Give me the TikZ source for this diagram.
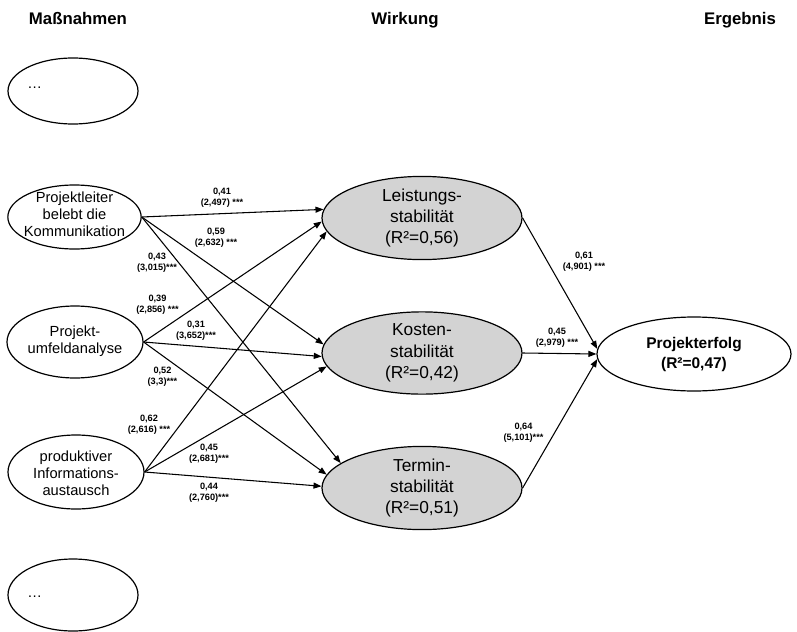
\documentclass[tikz,border=0pt]{standalone}
\usepackage{fontspec}
\setmainfont{Liberation Sans}
\usetikzlibrary{shapes.geometric,arrows.meta}
\definecolor{fillgray}{RGB}{211,211,211}
\begin{document}
\begin{tikzpicture}[x=0.75pt,y=-0.75pt,
  oval/.style={ellipse,draw,line width=0.9pt,inner sep=0pt,align=center},
  src/.style={oval},
  srctext/.style={align=center,inner sep=0pt,font=\fontsize{11}{13}\selectfont},
  mid/.style={oval,fill=fillgray,minimum width=150pt,minimum height=60pt,font=\fontsize{13}{16}\selectfont},
  res/.style={oval,minimum width=145.5pt,minimum height=55.5pt,font=\bfseries\fontsize{11.6}{15}\selectfont},
  head/.style={font=\bfseries\fontsize{12.6}{15}\selectfont,anchor=base,inner sep=0pt},
  coef/.style={font=\bfseries\fontsize{6.9}{8}\selectfont,align=center,inner sep=0pt},
  dots/.style={font=\fontsize{11}{13}\selectfont,anchor=base west,inner sep=0pt},
  arr/.style={-{Triangle[length=6pt,width=4.5pt]},line width=0.8pt}
]
\useasboundingbox (0,0) rectangle (797,632);

% column headings
\node[head] (h1) at (78,24) {Maßnahmen};
\node[head] (h2) at (405,24) {Wirkung};
\node[head] (h3) at (740,24) {Ergebnis};

% measures (fixed-size ovals, text set as centre label)
\node[src,minimum width=97.5pt,minimum height=49.5pt] (m0) at (73,91) {};
\node[dots] (d0) at (27,88) {\dots};
\node[src,minimum width=100pt,minimum height=48pt,
  label={[srctext,yshift=2pt]center:Projektleiter\\belebt die\\Kommunikation}] (pl) at (74.5,217) {};
\node[src,minimum width=102pt,minimum height=54pt,
  label={[srctext,yshift=0.5pt]center:Projekt-\\umfeldanalyse}] (pu) at (75,342) {};
\node[src,minimum width=102pt,minimum height=55.5pt,
  label={[srctext,yshift=-1pt]center:produktiver\\Informations-\\austausch}] (pi) at (76,472) {};
\node[src,minimum width=97.5pt,minimum height=54pt] (m1) at (73,595) {};
\node[dots] (d1) at (27,597) {\dots};

% effects
\node[mid] (L) at (422,218) {Leistungs-\\stabilität\\(R²=0,56)};
\node[mid] (K) at (422,353) {Kosten-\\stabilität\\(R²=0,42)};
\node[mid] (T) at (422,488) {Termin-\\stabilität\\(R²=0,51)};

% result
\node[res] (P) at (694,354) {Projekterfolg\\(R²=0,47)};

% paths from measures to effects
\draw[arr] (pl.east) -- (L.175);
\draw[arr] (pl.east) -- (K.175);
\draw[arr] (pl.east) -- (T.163);
\draw[arr] (pu.east) -- (L.182);
\draw[arr] (pu.east) -- (K.182);
\draw[arr] (pu.east) -- (T.172);
\draw[arr] (pi.east) -- (L.188);
\draw[arr] (pi.east) -- (K.188);
\draw[arr] (pi.east) -- (T.179);

% paths from effects to result
\draw[arr] (L.east) -- (P.177);
\draw[arr] (K.east) -- (P.west);
\draw[arr] (T.east) -- (P.183);

% path coefficients (t-values)
\node[coef] (c1) at (222,198) {0,41\\(2,497) ***};
\node[coef] (c2) at (216,238) {0,59\\(2,632) ***};
\node[coef] (c3) at (157,262.5) {0,43\\(3,015)***};
\node[coef] (c4) at (157.5,304.5) {0,39\\(2,856) ***};
\node[coef] (c5) at (196,331) {0,31\\(3,652)***};
\node[coef] (c6) at (162.5,377) {0,52\\(3,3)***};
\node[coef] (c7) at (149,424.5) {0,62\\(2,616) ***};
\node[coef] (c8) at (209,454) {0,45\\(2,681)***};
\node[coef] (c9) at (209,492.5) {0,44\\(2,760)***};
\node[coef] (c10) at (584,261.5) {0,61\\(4,901) ***};
\node[coef] (c11) at (557,338) {0,45\\(2,979) ***};
\node[coef] (c12) at (523.5,432.5) {0,64\\(5,101)***};
\end{tikzpicture}
\end{document}
